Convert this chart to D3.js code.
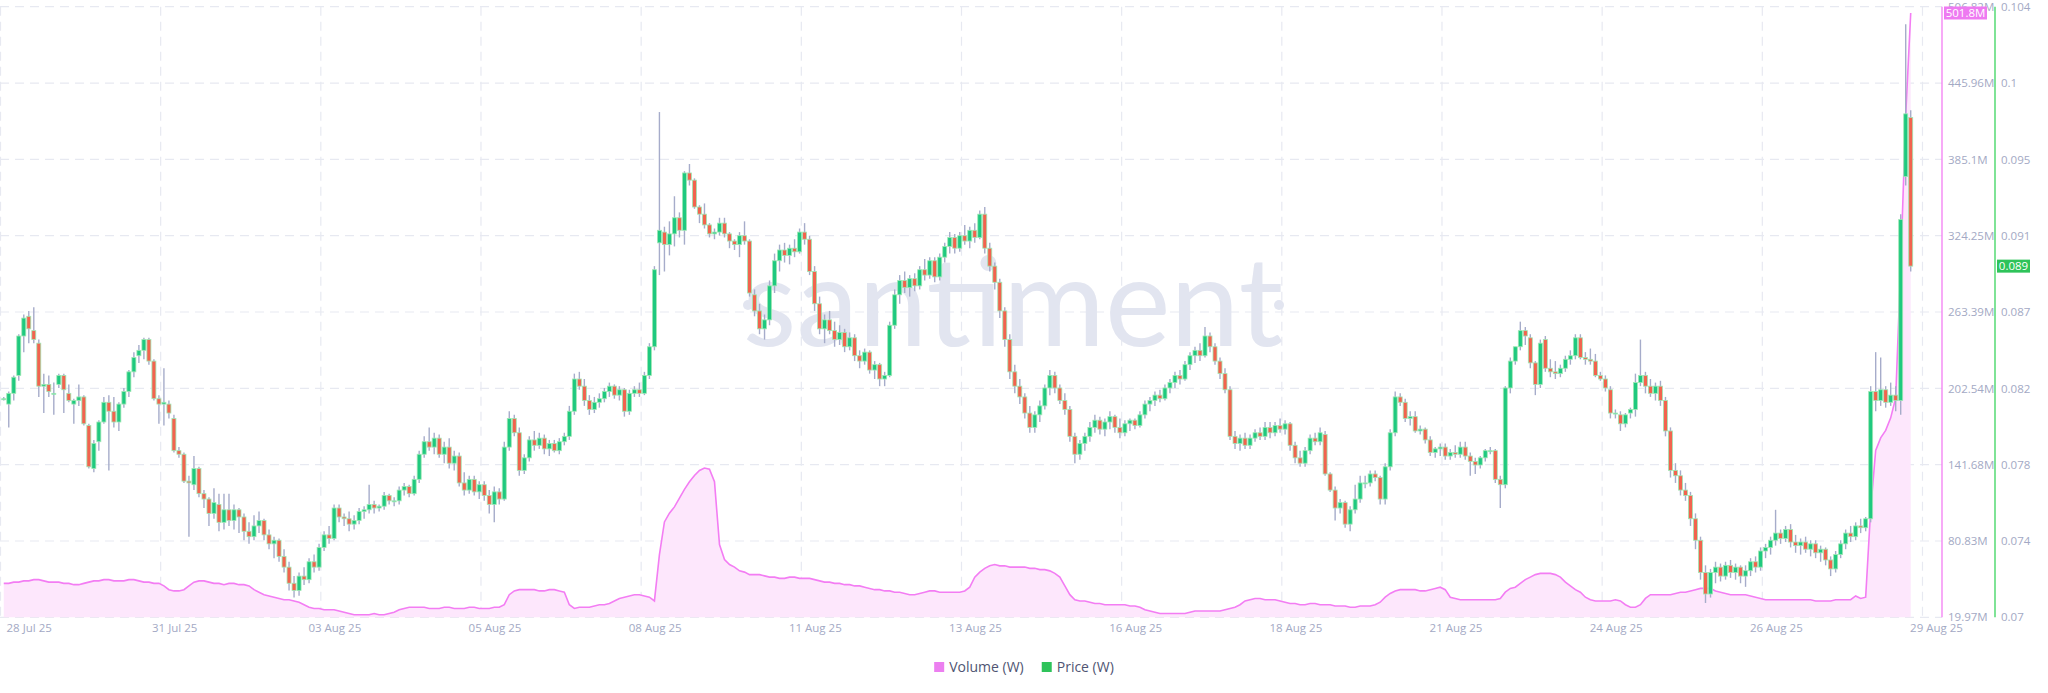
<!DOCTYPE html>
<html><head><meta charset="utf-8">
<script src="https://cdn.jsdelivr.net/npm/d3@7"></script>
<style>
html,body{margin:0;padding:0;background:#fff;}
svg{display:block;font-family:"Open Sans",Arial,sans-serif;}
</style>
</head><body>
<svg id="chart" width="2048" height="693"></svg>
<script>
// ---------- data ----------
const dateTicks = ["28 Jul 25","31 Jul 25","03 Aug 25","05 Aug 25","08 Aug 25","11 Aug 25","13 Aug 25","16 Aug 25","18 Aug 25","21 Aug 25","24 Aug 25","26 Aug 25","29 Aug 25"];
const priceTicks = ["0.07","0.074","0.078","0.082","0.087","0.091","0.095","0.1","0.104"];
const volumeTicks = ["19.97M","80.83M","141.68M","202.54M","263.39M","324.25M","385.1M","445.96M","506.82M"];
const priceDomain = [0.0697, 0.10378];
const volumeDomain = [19.97, 506.81];
const lastVolumeLabel = "501.8M";
const lastPriceLabel = "0.089";
// 2h candles from 28 Jul 25: [open, high, low, close]
const ohlc = [
[.0819,.0820,.0818,.0819],[.0816,.0823,.0803,.0822],[.0822,.0832,.0818,.0831],[.0832,.0855,.0829,.0854],[.0854,.0866,.0845,.0864],[.0865,.0868,.0850,.0858],[.0857,.0870,.0850,.0852],[.0850,.0852,.0820,.0826],[.0826,.0833,.0811,.0827],[.0827,.0832,.0820,.0823],[.0822,.0828,.0810,.0822],[.0827,.0833,.0825,.0832],
[.0832,.0833,.0811,.0824],[.0822,.0827,.0817,.0818],[.0816,.0819,.0805,.0818],[.0818,.0827,.0815,.0820],[.0820,.0821,.0804,.0805],[.0804,.0805,.0780,.0781],[.0780,.0796,.0778,.0794],[.0795,.0807,.0790,.0806],[.0806,.0820,.0805,.0817],[.0817,.0821,.0779,.0812],[.0812,.0820,.0803,.0806],[.0806,.0817,.0801,.0816],
[.0816,.0825,.0814,.0823],[.0823,.0835,.0820,.0834],[.0834,.0845,.0831,.0842],[.0843,.0849,.0839,.0846],[.0846,.0853,.0841,.0852],[.0852,.0853,.0838,.0840],[.0840,.0841,.0818,.0819],[.0819,.0821,.0805,.0816],[.0816,.0836,.0804,.0817],[.0816,.0818,.0808,.0811],[.0808,.0810,.0789,.0790],[.0790,.0792,.0786,.0788],
[.0788,.0789,.0772,.0773],[.0773,.0776,.0742,.0772],[.0771,.0787,.0768,.0780],[.0780,.0781,.0764,.0766],[.0766,.0768,.0758,.0763],[.0763,.0764,.0748,.0755],[.0755,.0769,.0752,.0761],[.0760,.0766,.0745,.0750],[.0750,.0766,.0746,.0757],[.0757,.0766,.0748,.0751],[.0751,.0760,.0746,.0757],[.0757,.0758,.0744,.0753],
[.0753,.0755,.0740,.0745],[.0745,.0750,.0738,.0742],[.0742,.0754,.0740,.0748],[.0748,.0756,.0744,.0751],[.0751,.0752,.0740,.0743],[.0743,.0746,.0735,.0738],[.0738,.0742,.0730,.0740],[.0740,.0741,.0728,.0731],[.0731,.0735,.0722,.0725],[.0725,.0728,.0712,.0716],[.0716,.0720,.0708,.0712],[.0712,.0722,.0709,.0720],
[.0720,.0725,.0715,.0718],[.0718,.0730,.0716,.0728],[.0728,.0732,.0722,.0725],[.0725,.0738,.0723,.0736],[.0736,.0745,.0734,.0743],[.0743,.0748,.0738,.0741],[.0741,.0760,.0740,.0758],[.0758,.0760,.0750,.0753],[.0753,.0755,.0748,.0752],[.0752,.0756,.0745,.0749],[.0749,.0754,.0746,.0751],[.0751,.0758,.0749,.0756],
[.0756,.0759,.0752,.0757],[.0757,.0771,.0755,.0760],[.0760,.0762,.0755,.0758],[.0758,.0760,.0756,.0759],[.0759,.0767,.0757,.0765],[.0765,.0766,.0760,.0762],[.0762,.0764,.0759,.0762],[.0762,.0770,.0760,.0768],[.0768,.0772,.0765,.0770],[.0770,.0771,.0764,.0766],[.0766,.0776,.0765,.0774],[.0774,.0790,.0772,.0788],
[.0788,.0798,.0786,.0795],[.0795,.0803,.0790,.0792],[.0792,.0800,.0788,.0797],[.0797,.0799,.0786,.0788],[.0788,.0795,.0783,.0792],[.0792,.0797,.0780,.0783],[.0783,.0790,.0779,.0787],[.0787,.0789,.0770,.0772],[.0772,.0778,.0765,.0768],[.0768,.0776,.0766,.0774],[.0774,.0776,.0765,.0767],[.0767,.0773,.0763,.0771],
[.0771,.0773,.0762,.0765],[.0765,.0768,.0755,.0760],[.0760,.0770,.0750,.0767],[.0767,.0769,.0760,.0763],[.0763,.0795,.0762,.0792],[.0792,.0812,.0790,.0808],[.0808,.0810,.0798,.0800],[.0800,.0803,.0776,.0779],[.0779,.0788,.0777,.0786],[.0786,.0798,.0784,.0796],[.0796,.0801,.0790,.0793],[.0793,.0800,.0791,.0797],
[.0797,.0799,.0788,.0791],[.0791,.0796,.0787,.0794],[.0794,.0796,.0789,.0790],[.0790,.0797,.0788,.0795],[.0795,.0800,.0793,.0798],[.0798,.0815,.0796,.0812],[.0812,.0833,.0810,.0830],[.0830,.0834,.0824,.0826],[.0826,.0830,.0815,.0818],[.0818,.0821,.0810,.0813],[.0813,.0820,.0811,.0817],[.0817,.0822,.0814,.0819],
[.0819,.0825,.0817,.0823],[.0823,.0828,.0820,.0826],[.0826,.0827,.0819,.0821],[.0821,.0826,.0818,.0824],[.0824,.0825,.0809,.0812],[.0812,.0824,.0810,.0822],[.0822,.0826,.0820,.0824],[.0824,.0828,.0820,.0822],[.0822,.0834,.0821,.0832],[.0832,.0850,.0830,.0848],[.0848,.0893,.0846,.0891],[.0906,.0979,.0888,.0913],
[.0912,.0915,.0890,.0905],[.0905,.0918,.0899,.0911],[.0911,.0932,.0904,.0920],[.0920,.0923,.0909,.0913],[.0913,.0946,.0905,.0945],[.0945,.0950,.0938,.0941],[.0941,.0942,.0925,.0926],[.0926,.0927,.0917,.0922],[.0922,.0928,.0914,.0916],[.0916,.0917,.0909,.0911],[.0911,.0914,.0908,.0912],[.0912,.0920,.0910,.0917],
[.0917,.0920,.0909,.0911],[.0911,.0912,.0903,.0907],[.0907,.0908,.0902,.0905],[.0905,.0912,.0898,.0910],[.0910,.0918,.0905,.0907],[.0907,.0908,.0876,.0878],[.0877,.0880,.0865,.0868],[.0868,.0872,.0855,.0858],[.0858,.0866,.0852,.0863],[.0863,.0885,.0860,.0882],[.0882,.0900,.0878,.0896],[.0896,.0905,.0890,.0902],
[.0902,.0906,.0895,.0899],[.0899,.0905,.0894,.0903],[.0903,.0908,.0898,.0901],[.0901,.0914,.0900,.0912],[.0912,.0917,.0905,.0908],[.0908,.0910,.0888,.0890],[.0890,.0893,.0868,.0872],[.0872,.0876,.0855,.0858],[.0858,.0866,.0850,.0863],[.0863,.0868,.0855,.0857],[.0857,.0862,.0848,.0852],[.0852,.0860,.0849,.0856],
[.0856,.0858,.0845,.0848],[.0848,.0856,.0846,.0853],[.0853,.0855,.0840,.0843],[.0843,.0846,.0836,.0840],[.0840,.0847,.0838,.0845],[.0845,.0846,.0833,.0835],[.0835,.0840,.0830,.0838],[.0838,.0839,.0826,.0830],[.0830,.0834,.0826,.0832],[.0832,.0862,.0831,.0860],[.0860,.0880,.0858,.0877],[.0877,.0888,.0872,.0885],
[.0885,.0890,.0878,.0881],[.0881,.0888,.0876,.0886],[.0886,.0889,.0879,.0882],[.0882,.0893,.0880,.0891],[.0891,.0897,.0885,.0888],[.0888,.0898,.0886,.0896],[.0896,.0898,.0884,.0887],[.0887,.0900,.0885,.0898],[.0898,.0906,.0895,.0904],[.0904,.0912,.0900,.0909],[.0909,.0911,.0900,.0903],[.0903,.0912,.0901,.0910],
[.0910,.0916,.0905,.0907],[.0907,.0915,.0903,.0913],[.0913,.0917,.0906,.0909],[.0909,.0924,.0908,.0922],[.0922,.0926,.0900,.0903],[.0903,.0906,.0890,.0893],[.0893,.0895,.0880,.0884],[.0884,.0886,.0864,.0868],[.0868,.0870,.0848,.0852],[.0852,.0855,.0830,.0834],[.0834,.0838,.0822,.0826],[.0826,.0830,.0816,.0820],
[.0820,.0822,.0808,.0811],[.0811,.0815,.0800,.0803],[.0803,.0812,.0800,.0810],[.0810,.0818,.0806,.0815],[.0815,.0827,.0813,.0825],[.0825,.0835,.0821,.0832],[.0832,.0834,.0822,.0825],[.0825,.0827,.0816,.0818],[.0818,.0822,.0810,.0813],[.0813,.0815,.0795,.0798],[.0798,.0800,.0783,.0788],[.0788,.0796,.0785,.0794],
[.0794,.0800,.0790,.0798],[.0798,.0806,.0795,.0803],[.0803,.0810,.0800,.0807],[.0807,.0809,.0799,.0802],[.0802,.0808,.0798,.0806],[.0806,.0812,.0802,.0809],[.0809,.0810,.0800,.0803],[.0803,.0808,.0797,.0800],[.0800,.0807,.0798,.0805],[.0805,.0808,.0801,.0807],[.0807,.0808,.0802,.0804],[.0804,.0812,.0803,.0810],
[.0810,.0818,.0808,.0816],[.0816,.0820,.0812,.0818],[.0818,.0823,.0815,.0821],[.0821,.0824,.0817,.0819],[.0819,.0827,.0818,.0825],[.0825,.0830,.0822,.0828],[.0828,.0834,.0825,.0832],[.0832,.0835,.0827,.0830],[.0830,.0840,.0829,.0838],[.0838,.0845,.0835,.0843],[.0843,.0848,.0839,.0846],[.0846,.0850,.0840,.0843],
[.0843,.0859,.0842,.0854],[.0854,.0856,.0845,.0848],[.0848,.0850,.0838,.0840],[.0840,.0842,.0830,.0833],[.0833,.0836,.0822,.0824],[.0824,.0826,.0796,.0798],[.0798,.0801,.0791,.0794],[.0794,.0799,.0790,.0797],[.0797,.0800,.0791,.0793],[.0793,.0799,.0791,.0797],[.0797,.0802,.0795,.0800],[.0800,.0803,.0796,.0798],
[.0798,.0806,.0796,.0803],[.0803,.0806,.0797,.0800],[.0800,.0806,.0798,.0804],[.0804,.0808,.0800,.0802],[.0802,.0807,.0799,.0805],[.0805,.0806,.0790,.0793],[.0793,.0795,.0783,.0786],[.0786,.0790,.0781,.0783],[.0783,.0792,.0781,.0790],[.0790,.0799,.0788,.0797],[.0797,.0800,.0793,.0795],[.0795,.0803,.0793,.0800],
[.0799,.0801,.0776,.0777],[.0777,.0778,.0767,.0768],[.0768,.0770,.0751,.0758],[.0758,.0763,.0755,.0761],[.0761,.0762,.0747,.0749],[.0749,.0759,.0745,.0757],[.0757,.0771,.0755,.0763],[.0763,.0776,.0761,.0772],[.0772,.0776,.0769,.0772],[.0772,.0779,.0770,.0777],[.0777,.0779,.0773,.0775],[.0775,.0776,.0760,.0763],
[.0763,.0783,.0760,.0781],[.0781,.0802,.0779,.0800],[.0800,.0823,.0798,.0820],[.0820,.0822,.0815,.0817],[.0817,.0819,.0806,.0808],[.0808,.0812,.0804,.0809],[.0809,.0812,.0800,.0801],[.0801,.0804,.0799,.0802],[.0802,.0803,.0794,.0796],[.0796,.0798,.0787,.0789],[.0789,.0792,.0786,.0791],[.0791,.0794,.0787,.0792],
[.0792,.0794,.0785,.0787],[.0787,.0791,.0785,.0789],[.0789,.0793,.0786,.0788],[.0788,.0795,.0786,.0792],[.0792,.0795,.0785,.0787],[.0787,.0789,.0776,.0784],[.0784,.0786,.0777,.0782],[.0782,.0787,.0780,.0786],[.0786,.0791,.0784,.0790],[.0790,.0792,.0788,.0790],[.0790,.0791,.0772,.0774],[.0774,.0776,.0758,.0771],
[.0771,.0826,.0769,.0825],[.0825,.0842,.0822,.0840],[.0840,.0848,.0838,.0848],[.0848,.0862,.0846,.0857],[.0857,.0859,.0849,.0854],[.0853,.0855,.0836,.0839],[.0839,.0840,.0821,.0827],[.0827,.0852,.0825,.0850],[.0852,.0854,.0834,.0836],[.0836,.0841,.0831,.0834],[.0834,.0840,.0830,.0833],[.0833,.0838,.0831,.0836],
[.0836,.0843,.0834,.0841],[.0841,.0846,.0838,.0843],[.0843,.0855,.0841,.0853],[.0853,.0855,.0841,.0842],[.0842,.0845,.0838,.0841],[.0841,.0847,.0838,.0840],[.0840,.0844,.0831,.0832],[.0832,.0834,.0829,.0830],[.0830,.0832,.0823,.0825],[.0824,.0826,.0808,.0811],[.0811,.0813,.0808,.0811],[.0810,.0812,.0801,.0805],
[.0805,.0811,.0803,.0810],[.0811,.0814,.0808,.0813],[.0813,.0833,.0809,.0828],[.0828,.0852,.0826,.0832],[.0832,.0834,.0822,.0826],[.0826,.0830,.0820,.0822],[.0822,.0828,.0818,.0826],[.0826,.0829,.0815,.0818],[.0818,.0820,.0798,.0801],[.0801,.0803,.0775,.0779],[.0779,.0783,.0772,.0776],[.0776,.0779,.0765,.0768],
[.0768,.0772,.0762,.0765],[.0765,.0767,.0748,.0752],[.0752,.0755,.0735,.0740],[.0740,.0742,.0718,.0722],[.0722,.0726,.0705,.0710],[.0710,.0724,.0708,.0722],[.0722,.0728,.0716,.0725],[.0725,.0727,.0717,.0720],[.0720,.0728,.0718,.0726],[.0726,.0729,.0719,.0722],[.0722,.0727,.0718,.0725],[.0725,.0726,.0716,.0720],
[.0720,.0726,.0714,.0723],[.0723,.0730,.0720,.0728],[.0728,.0731,.0722,.0725],[.0725,.0736,.0723,.0734],[.0734,.0738,.0730,.0736],[.0736,.0742,.0732,.0740],[.0740,.0757,.0737,.0744],[.0744,.0746,.0738,.0741],[.0741,.0748,.0739,.0746],[.0746,.0749,.0736,.0739],[.0739,.0743,.0733,.0737],[.0737,.0741,.0732,.0739],
[.0739,.0742,.0733,.0735],[.0735,.0740,.0731,.0738],[.0738,.0740,.0730,.0733],[.0733,.0737,.0728,.0735],[.0735,.0736,.0726,.0729],[.0729,.0731,.0720,.0724],[.0724,.0734,.0722,.0732],[.0732,.0740,.0730,.0738],[.0738,.0746,.0735,.0744],[.0744,.0748,.0739,.0742],[.0742,.0750,.0740,.0748],[.0748,.0752,.0744,.0747],
[.0747,.0753,.0745,.0752],[.0752,.0826,.0750,.0823],[.0823,.0845,.0812,.0818],[.0818,.0842,.0815,.0824],[.0824,.0826,.0814,.0817],[.0817,.0828,.0815,.0821],[.0821,.0826,.0812,.0818],[.0818,.0922,.0810,.0919],[.0943,.1028,.0938,.0978],[.0976,.0980,.0890,.0893]
];
// rolling volume (millions), one value per candle
const volume = [
47,47,48,48,49,49,50,50,49,48,48,48,
47,47,46,46,47,48,49,49,50,50,49,49,
49,50,50,49,48,48,47,47,45,42,41,41,
42,45,48,49,49,48,47,47,46,47,47,46,
46,45,42,40,38,37,36,35,34,34,33,32,
30,28,27,27,26,26,26,25,24,23,22,22,
22,22,23,22,22,23,24,26,27,28,28,28,
28,27,27,27,28,28,27,27,27,28,28,27,
27,27,28,28,30,38,41,42,42,42,42,41,
41,42,42,41,40,30,27,28,28,28,29,30,
30,31,33,35,36,37,38,38,37,36,33,70,
96,103,108,115,122,128,133,137,139,138,128,78,
66,62,60,57,56,54,54,54,53,52,52,51,
51,52,52,51,51,51,50,49,48,48,47,47,
46,46,45,45,44,43,42,42,41,41,40,40,
39,38,38,39,40,41,41,40,40,40,40,40,
41,44,52,56,59,61,62,61,61,60,60,60,
60,59,59,58,58,57,55,52,45,38,34,33,
33,32,31,31,30,30,30,30,30,29,29,28,
26,25,24,23,23,23,23,23,23,24,25,25,
25,25,25,25,26,27,28,30,33,34,35,35,
34,34,34,33,32,31,31,30,30,31,31,30,
30,30,29,29,29,28,28,29,29,29,30,32,
36,39,41,42,42,42,42,41,41,42,43,44,
42,36,35,34,34,34,34,34,34,34,34,35,
40,43,44,47,50,52,54,55,55,55,54,52,
48,45,42,40,36,34,33,33,33,33,34,33,
30,28,28,30,35,38,38,38,38,38,39,40,
40,41,42,43,43,43,41,40,39,38,38,38,
38,37,36,35,34,34,34,34,34,34,34,34,
34,34,33,33,33,33,34,34,34,34,37,35,
36,106,153,163,169,179,195,300,420,501.8
];

// ---------- layout ----------
const svg = d3.select("#chart");
const plotL = 0, plotR = 1942, plotT = 6.7, plotB = 617.3;
const HOUR = 3600e3;
const t0 = Date.UTC(2025, 6, 28);
const x = d3.scaleUtc().domain([new Date(t0), new Date(t0 + 776 * HOUR)]).range([plotL, plotR]);
const y = d3.scaleLinear().domain(priceDomain).range([plotB, plotT]);
const v = d3.scaleLinear().domain(volumeDomain).range([plotB, plotT]);
const candleTime = i => new Date(t0 + (2 * i + 1.5) * HOUR);
const tickTimes = dateTicks.map((_, k) => new Date(t0 + k * 64 * HOUR));
const priceTickVals = priceTicks.map((_, k) => priceDomain[0] + k * (priceDomain[1] - priceDomain[0]) / 8);
const volTickVals = volumeTicks.map((_, k) => volumeDomain[0] + k * (volumeDomain[1] - volumeDomain[0]) / 8);

const gridColor = "#e7e9f1";
const labelColor = "#a3a9c4";
const upColor = "#1fc97f", downColor = "#f2634e";
const volColor = "#f37df3", volFill = "#fde7fc";
const priceAxisColor = "#3bd45f";

// grid
const grid = svg.append("g");
grid.selectAll("line.h").data(priceTickVals).join("line")
  .attr("x1", plotL).attr("x2", plotR)
  .attr("y1", d => y(d)).attr("y2", d => y(d))
  .attr("stroke", gridColor).attr("stroke-width", 1.2).attr("stroke-dasharray", "9,6");
grid.selectAll("line.v").data(tickTimes).join("line")
  .attr("x1", d => x(d) + 0.5).attr("x2", d => x(d) + 0.5)
  .attr("y1", plotT).attr("y2", plotB)
  .attr("stroke", gridColor).attr("stroke-width", 1.2).attr("stroke-dasharray", "9,6");

// watermark
const wm = svg.append("g").attr("fill", "#e2e5f0");
wm.append("text").attr("x", 1013).attr("y", 346).attr("text-anchor", "middle")
  .attr("font-family", "Lato, 'Open Sans', sans-serif").attr("font-size", 124).attr("font-weight", 400)
  .text("santiment");
wm.append("circle").attr("cx", 748).attr("cy", 305).attr("r", 5);
wm.append("circle").attr("cx", 1279).attr("cy", 305).attr("r", 5);

// volume area + line
const volPts = volume.map((d, i) => [x(candleTime(i)), v(d)]);
svg.append("path").datum(volume)
  .attr("d", d3.area().x((d, i) => x(candleTime(i))).y0(plotB).y1(d => v(d)))
  .attr("fill", volFill);
svg.append("path").datum(volume)
  .attr("d", d3.line().x((d, i) => x(candleTime(i))).y(d => v(d)))
  .attr("fill", "none").attr("stroke", volColor).attr("stroke-width", 1.6);

// candles
const cg = svg.append("g");
cg.selectAll("line.wick").data(ohlc).join("line")
  .attr("x1", (d, i) => x(candleTime(i))).attr("x2", (d, i) => x(candleTime(i)))
  .attr("y1", d => y(d[1])).attr("y2", d => y(d[2]))
  .attr("stroke", "#a6acca").attr("stroke-width", 1.4);
const bw = 4;
cg.selectAll("rect.body").data(ohlc).join("rect")
  .attr("x", (d, i) => x(candleTime(i)) - bw / 2)
  .attr("width", bw)
  .attr("y", d => y(Math.max(d[0], d[3])))
  .attr("height", d => Math.max(1, Math.abs(y(d[0]) - y(d[3]))))
  .attr("fill", d => d[3] >= d[0] ? upColor : downColor)
  .attr("stroke", "#9fe8b4").attr("stroke-width", 0.8);

// axes lines
svg.append("line").attr("x1", 1942).attr("x2", 1942).attr("y1", plotT).attr("y2", plotB)
  .attr("stroke", volColor).attr("stroke-width", 1.3);
svg.append("line").attr("x1", 1995).attr("x2", 1995).attr("y1", plotT).attr("y2", plotB)
  .attr("stroke", priceAxisColor).attr("stroke-width", 1.3);

// volume axis labels
const vAxis = svg.append("g").attr("transform", "translate(1946,0)")
  .call(d3.axisRight(v).tickValues(volTickVals).tickFormat((d, i) => volumeTicks[i]).tickSize(0).tickPadding(2));
// price axis labels
const pAxis = svg.append("g").attr("transform", "translate(1999,0)")
  .call(d3.axisRight(y).tickValues(priceTickVals).tickFormat((d, i) => priceTicks[i]).tickSize(0).tickPadding(2));
[vAxis, pAxis].forEach(a => {
  a.select(".domain").remove();
  a.selectAll("text").attr("fill", labelColor).attr("font-size", 11.5)
    .attr("font-family", "'Open Sans', Arial, sans-serif");
});

// x axis labels
const xAxis = svg.append("g").attr("transform", `translate(0,${plotB})`)
  .call(d3.axisBottom(x).tickValues(tickTimes).tickFormat((d, i) => dateTicks[i]).tickSize(0).tickPadding(7));
xAxis.select(".domain").remove();
xAxis.selectAll("text").attr("fill", labelColor).attr("font-size", 11.5)
  .attr("font-family", "'Open Sans', Arial, sans-serif")
  .attr("dx", 14);
xAxis.selectAll(".tick").filter((d, i) => i === 0).select("text")
  .attr("text-anchor", "start").attr("dx", 6);

// last value badges
const vLast = volume[volume.length - 1];
const vb = svg.append("g").attr("transform", `translate(1944,${v(vLast)})`);
vb.append("rect").attr("x", 0).attr("y", -6.5).attr("width", 43).attr("height", 13).attr("fill", "#ee7af1");
vb.append("text").attr("x", 21.5).attr("y", 0).attr("dy", "0.35em").attr("text-anchor", "middle")
  .attr("fill", "#fff").attr("font-size", 11.5).attr("font-family", "'Open Sans', Arial, sans-serif")
  .text(lastVolumeLabel);
const pLast = ohlc[ohlc.length - 1][3];
const pb = svg.append("g").attr("transform", `translate(1997,${y(pLast)})`);
pb.append("rect").attr("x", 0).attr("y", -6.5).attr("width", 33).attr("height", 13).attr("fill", "#2ec35a");
pb.append("text").attr("x", 16.5).attr("y", 0).attr("dy", "0.35em").attr("text-anchor", "middle")
  .attr("fill", "#fff").attr("font-size", 11.5).attr("font-family", "'Open Sans', Arial, sans-serif")
  .text(lastPriceLabel);

// legend
const legendItems = [{label: "Volume (W)", color: "#ec7ff0"}, {label: "Price (W)", color: "#2ec35a"}];
const lg = svg.append("g").attr("font-family", "'Open Sans', Arial, sans-serif").attr("font-size", 14);
let lx = 0;
legendItems.forEach(it => {
  const g = lg.append("g").attr("transform", `translate(${lx},0)`);
  g.append("rect").attr("x", 0).attr("y", -5).attr("width", 10).attr("height", 10).attr("fill", it.color);
  const t = g.append("text").attr("x", 15).attr("y", 0).attr("dy", "0.35em").attr("fill", "#4f5573").text(it.label);
  lx += 15 + t.node().getComputedTextLength() + 18;
});
lg.attr("transform", `translate(${1024 - (lx - 18) / 2},667)`);
</script>
</body></html>
